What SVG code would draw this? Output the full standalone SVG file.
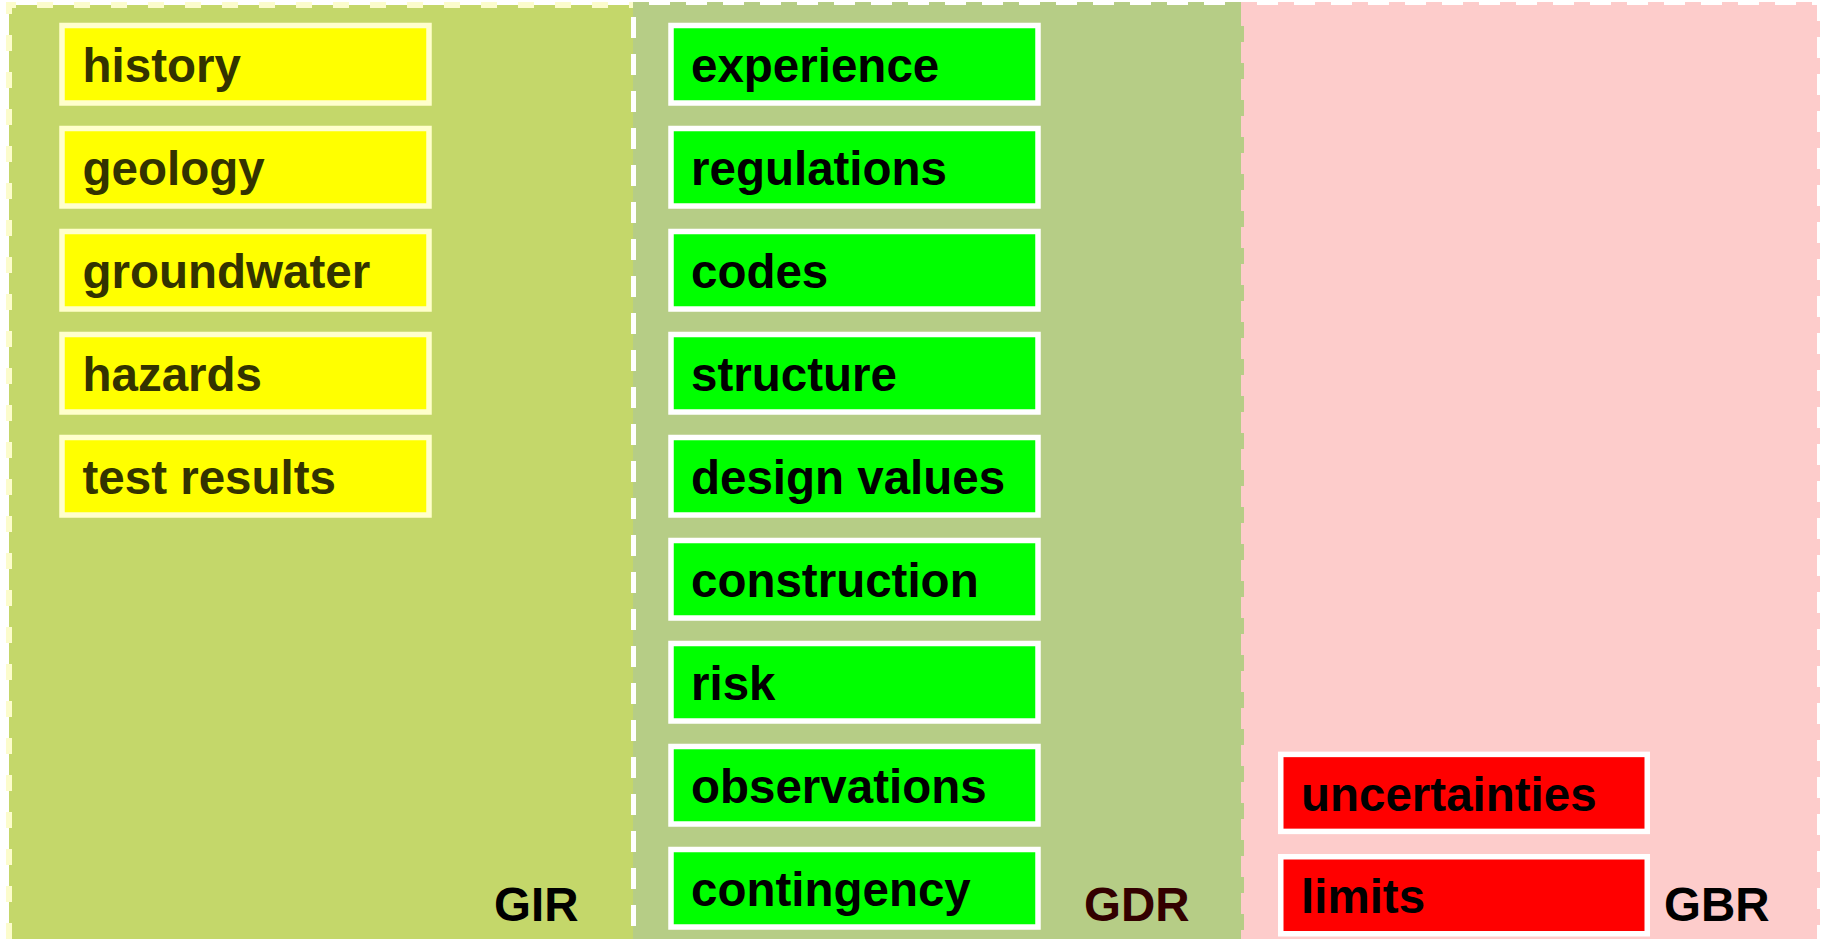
<svg xmlns="http://www.w3.org/2000/svg" width="1822" height="939" viewBox="0 0 1822 939">
<style>
.t{font-family:"Liberation Sans",Arial,sans-serif;font-weight:bold;font-size:47.5px}
.ty{fill:#333300}
.tb{fill:#000000}
.yb{fill:#ffff00;stroke:#ffffcc;stroke-width:5.5}
.gb{fill:#00ff00;stroke:#ffffff;stroke-width:5.5}
.rb{fill:#ff0000;stroke:#ffffff;stroke-width:5.5}
.edge{fill:none;stroke-width:6;stroke-dasharray:16 21}
</style>
<rect width="1822" height="939" fill="#ffffff"/>
<g id="region-GBR">
<rect x="9" y="5" width="1808" height="940" fill="#fdcccb"/>
<path class="edge" d="M1241,5 H1817 V939" stroke="#fdcccb"/>
</g>
<g id="region-GDR">
<rect x="9" y="5" width="1232" height="940" fill="#b6cd86"/>
<path class="edge" d="M633,5 H1241 V939" stroke="#b6cd86"/>
</g>
<g id="region-GIR">
<rect x="9" y="5" width="624" height="940" fill="#c4d76a"/>
<path class="edge" d="M9,939 V5 H633" stroke="#fcfccc" stroke-dasharray="16 15"/>
</g>
<g id="connectors">
<line x1="633.5" y1="17" x2="633.5" y2="939" stroke="#ffffff" stroke-width="5" stroke-dasharray="21 16"/>
</g>
<g id="n-history"><rect class="yb" x="62" y="25.5" width="367" height="77.5"/><text class="t ty" x="82.5" y="81.7">history</text></g>
<g id="n-geology"><rect class="yb" x="62" y="128.5" width="367" height="77.5"/><text class="t ty" x="82.5" y="184.7">geology</text></g>
<g id="n-groundwater"><rect class="yb" x="62" y="231.5" width="367" height="77.5"/><text class="t ty" x="82.5" y="287.7">groundwater</text></g>
<g id="n-hazards"><rect class="yb" x="62" y="334.5" width="367" height="77.5"/><text class="t ty" x="82.5" y="390.7">hazards</text></g>
<g id="n-test-results"><rect class="yb" x="62" y="437.5" width="367" height="77.5"/><text class="t ty" x="82.5" y="493.7">test results</text></g>
<g id="n-experience"><rect class="gb" x="671" y="25.5" width="367" height="77.5"/><text class="t tb" x="691" y="81.7">experience</text></g>
<g id="n-regulations"><rect class="gb" x="671" y="128.5" width="367" height="77.5"/><text class="t tb" x="691" y="184.7">regulations</text></g>
<g id="n-codes"><rect class="gb" x="671" y="231.5" width="367" height="77.5"/><text class="t tb" x="691" y="287.7">codes</text></g>
<g id="n-structure"><rect class="gb" x="671" y="334.5" width="367" height="77.5"/><text class="t tb" x="691" y="390.7">structure</text></g>
<g id="n-design-values"><rect class="gb" x="671" y="437.5" width="367" height="77.5"/><text class="t tb" x="691" y="493.7">design values</text></g>
<g id="n-construction"><rect class="gb" x="671" y="540.5" width="367" height="77.5"/><text class="t tb" x="691" y="596.7">construction</text></g>
<g id="n-risk"><rect class="gb" x="671" y="643.5" width="367" height="77.5"/><text class="t tb" x="691" y="699.7">risk</text></g>
<g id="n-observations"><rect class="gb" x="671" y="746.5" width="367" height="77.5"/><text class="t tb" x="691" y="802.7">observations</text></g>
<g id="n-contingency"><rect class="gb" x="671" y="849.5" width="367" height="77.5"/><text class="t tb" x="691" y="905.7">contingency</text></g>
<g id="n-uncertainties"><rect class="rb" x="1280.75" y="754.4" width="366.5" height="77"/><text class="t tb" x="1301" y="810.6">uncertainties</text></g>
<g id="n-limits"><rect class="rb" x="1280.75" y="856.75" width="366.5" height="77"/><text class="t tb" x="1301" y="913">limits</text></g>
<g id="label-GIR"><text class="t tb" x="494" y="921">GIR</text></g>
<g id="label-GDR"><text class="t" x="1084" y="921" fill="#330000">GDR</text></g>
<g id="label-GBR"><text class="t tb" x="1664" y="921">GBR</text></g>
</svg>
